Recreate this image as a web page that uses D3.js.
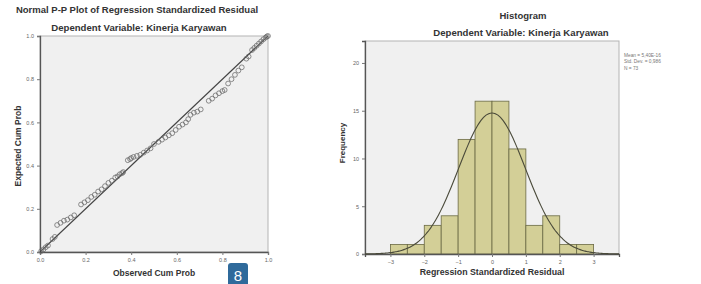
<!DOCTYPE html>
<html><head><meta charset="utf-8">
<script src="https://cdn.jsdelivr.net/npm/d3@7"></script>
<style>
body{margin:0;background:#fff;}
svg{display:block;font-family:"Liberation Sans",Arial,sans-serif;}
</style></head><body>
<svg id="c" width="701" height="284"></svg>
<script>
// ---- P-P plot data (observed cum prob, expected cum prob) ----
const ppObserved = [0.005,0.015,0.025,0.035,0.055,0.065,
 0.075,0.09,0.105,0.12,0.135,0.15,
 0.18,0.195,0.21,0.225,0.24,0.255,0.27,0.285,0.30,0.315,0.33,0.34,0.35,0.36,0.365,
 0.385,0.395,0.40,0.41,0.425,0.44,0.455,0.47,0.485,0.50,
 0.52,0.535,0.55,0.565,0.58,0.595,0.61,0.625,0.64,0.65,
 0.66,0.675,0.69,0.705,
 0.74,0.755,0.77,0.785,0.80,0.81,
 0.825,0.84,0.855,0.87,0.885,
 0.905,0.915,
 0.93,0.94,0.95,0.96,0.97,0.98,0.99,0.995,1.0];
const ppExpected = [0.004,0.012,0.022,0.03,0.06,0.07,
 0.125,0.135,0.145,0.15,0.16,0.17,
 0.22,0.23,0.24,0.255,0.265,0.28,0.29,0.305,0.32,0.33,0.345,0.35,0.36,0.365,0.37,
 0.425,0.43,0.435,0.44,0.445,0.45,0.46,0.47,0.48,0.50,
 0.51,0.52,0.53,0.54,0.55,0.565,0.58,0.59,0.60,0.615,
 0.635,0.645,0.65,0.66,
 0.70,0.71,0.725,0.735,0.745,0.75,
 0.78,0.80,0.82,0.84,0.855,
 0.895,0.905,
 0.935,0.945,0.955,0.965,0.975,0.985,0.993,0.998,1.0];
const ppTicks = [0.0,0.2,0.4,0.6,0.8,1.0];

// ---- Histogram data ----
const binStarts = [-3,-2.5,-2,-1.5,-1,-0.5,0,0.5,1,1.5,2,2.5];
const binCounts = [1,1,3,4,12,16,16,11,3,4,1,1];
const histXTicks = [-3,-2,-1,0,1,2,3];
const histYTicks = [0,5,10,15,20];
const statLabels = ["Mean = 5,40E-16","Std. Dev. = 0,986","N = 73"];
const statMean = [5.4e-16], statSd = [0.986], statN = [73];
const binWidth = 0.5;

const svg = d3.select("#c");
const bold = "bold";

// ===== LEFT: P-P plot =====
const px = d3.scaleLinear().domain([0,1]).range([40,268]);
const py = d3.scaleLinear().domain([0,1]).range([252,36]);
svg.append("rect").attr("x",40).attr("y",36).attr("width",228).attr("height",216)
  .attr("fill","#f0f0f0").attr("stroke","#b4b4b4").attr("stroke-width",1);

const gxl = svg.append("g").attr("transform","translate(0,252)")
  .call(d3.axisBottom(px).tickValues(ppTicks).tickFormat(d3.format(".1f")).tickSize(3));
const gyl = svg.append("g").attr("transform","translate(40,0)")
  .call(d3.axisLeft(py).tickValues(ppTicks).tickFormat(d3.format(".1f")).tickSize(3));
[gxl,gyl].forEach(g=>{
  g.select(".domain").attr("stroke","#555").attr("stroke-width",1.3);
  g.selectAll(".tick line").attr("stroke","#777");
  g.selectAll(".tick text").attr("font-size",5.5).attr("fill","#666");
});

svg.append("line").attr("x1",px(0)).attr("y1",py(0)).attr("x2",px(1)).attr("y2",py(1))
  .attr("stroke","#444").attr("stroke-width",1.1);
svg.append("g").selectAll("circle").data(ppObserved.map((o,i)=>[o,ppExpected[i]])).join("circle")
  .attr("cx",d=>px(d[0])).attr("cy",d=>py(d[1])).attr("r",2.4)
  .attr("fill","none").attr("stroke","#6a6a6a").attr("stroke-width",0.75);

svg.append("text").attr("x",137).attr("y",13).attr("text-anchor","middle")
  .attr("font-size",9.5).attr("font-weight",bold).attr("fill","#333")
  .text("Normal P-P Plot of Regression Standardized Residual");
svg.append("text").attr("x",139).attr("y",31).attr("text-anchor","middle")
  .attr("font-size",9.6).attr("font-weight",bold).attr("fill","#333")
  .text("Dependent Variable: Kinerja Karyawan");
svg.append("text").attr("x",154).attr("y",276).attr("text-anchor","middle")
  .attr("font-size",8.5).attr("font-weight",bold).attr("fill","#333").text("Observed Cum Prob");
svg.append("text").attr("transform","translate(21,146) rotate(-90)").attr("text-anchor","middle")
  .attr("font-size",8.5).attr("font-weight",bold).attr("fill","#333").text("Expected Cum Prob");

// ===== RIGHT: Histogram =====
const hx = d3.scaleLinear().domain([-3.75,3.75]).range([365,619]);
const hy = d3.scaleLinear().domain([0,22.3]).range([254,41]);
svg.append("rect").attr("x",365).attr("y",41).attr("width",254).attr("height",213)
  .attr("fill","#f0f0f0").attr("stroke","#b4b4b4").attr("stroke-width",1);

svg.append("g").selectAll("rect").data(binStarts.map((s,i)=>[s,binCounts[i]])).join("rect")
  .attr("x",d=>hx(d[0])).attr("y",d=>hy(d[1]))
  .attr("width",d=>hx(d[0]+binWidth)-hx(d[0])).attr("height",d=>hy(0)-hy(d[1]))
  .attr("fill","#d3cf97").attr("stroke","#6b6a45").attr("stroke-width",0.8);

const gxr = svg.append("g").attr("transform","translate(0,254)")
  .call(d3.axisBottom(hx).tickValues(histXTicks).tickFormat(d3.format("d")).tickSize(3));
const gyr = svg.append("g").attr("transform","translate(365,0)")
  .call(d3.axisLeft(hy).tickValues(histYTicks).tickFormat(d3.format("d")).tickSize(3));
[gxr,gyr].forEach(g=>{
  g.select(".domain").attr("stroke","#555").attr("stroke-width",1.3);
  g.selectAll(".tick line").attr("stroke","#777");
  g.selectAll(".tick text").attr("font-size",5.5).attr("fill","#666");
});

// fitted normal curve from the reported statistics
const curvePts = d3.range(-3.75,3.751,0.05).map(x=>{
  const z=(x-statMean[0])/statSd[0];
  return [x, statN[0]*binWidth/(statSd[0]*Math.sqrt(2*Math.PI))*Math.exp(-0.5*z*z)];
});
svg.append("path").datum(curvePts)
  .attr("d",d3.line().x(d=>hx(d[0])).y(d=>hy(d[1])).curve(d3.curveBasis))
  .attr("fill","none").attr("stroke","#4a4a3a").attr("stroke-width",1.1);

svg.append("g").selectAll("text").data(statLabels).join("text")
  .attr("x",624).attr("y",(d,i)=>57+i*6.3)
  .attr("font-size",4.8).attr("fill","#777").text(d=>d);

svg.append("text").attr("x",523).attr("y",19).attr("text-anchor","middle")
  .attr("font-size",9.5).attr("font-weight",bold).attr("fill","#333").text("Histogram");
svg.append("text").attr("x",521).attr("y",36).attr("text-anchor","middle")
  .attr("font-size",9.6).attr("font-weight",bold).attr("fill","#333")
  .text("Dependent Variable: Kinerja Karyawan");
svg.append("text").attr("x",492).attr("y",275).attr("text-anchor","middle")
  .attr("font-size",8.8).attr("font-weight",bold).attr("fill","#333")
  .text("Regression Standardized Residual");
svg.append("text").attr("transform","translate(345,143) rotate(-90)").attr("text-anchor","middle")
  .attr("font-size",8).attr("font-weight",bold).attr("fill","#333").text("Frequency");

// page badge
svg.append("rect").attr("x",228).attr("y",263).attr("width",20).attr("height",24).attr("rx",3)
  .attr("fill","#2f6a9b");
svg.append("text").attr("x",238).attr("y",281).attr("text-anchor","middle")
  .attr("font-size",15).attr("fill","#fff").attr("font-family","Liberation Sans, Arial").text("8");
</script>
</body></html>
